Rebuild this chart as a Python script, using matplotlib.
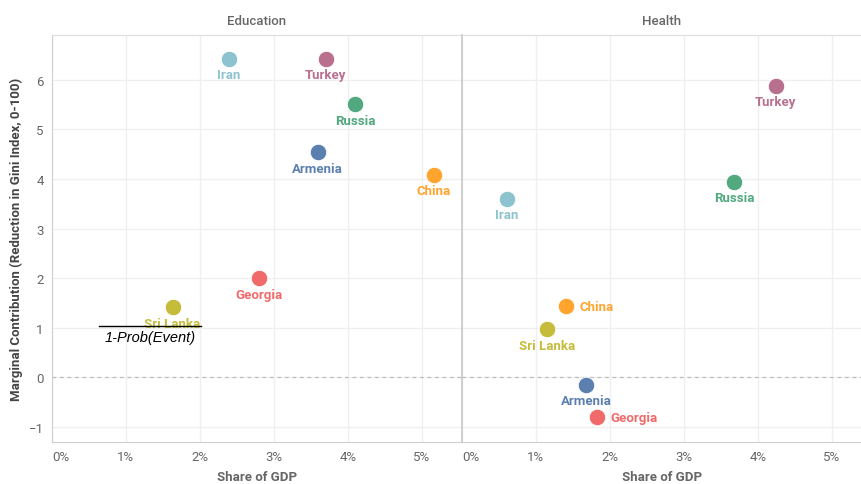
"""
plot.py
"""

import matplotlib.pyplot as plt
from matplotlib.ticker import FuncFormatter

plt.rcParams["font.family"] = ["Roboto", "DejaVu Sans"]

# -------------------------
# Data
# -------------------------

countries = ["Iran", "Turkey", "Russia", "Armenia", "China", "Georgia", "Sri Lanka"]

edu_share = [2.39, 3.70, 4.10, 3.59, 5.16, 2.80, 1.63]
edu_contrib = [6.42, 6.42, 5.50, 4.54, 4.08, 2.00, 1.41]

health_share = [0.61, 4.24, 3.68, 1.68, 1.40, 1.82, 1.15]
health_contrib = [3.60, 5.88, 3.94, -0.15, 1.44, -0.80, 0.97]

colors = {
    "Iran": "#8cc3ce",
    "Turkey": "#b9708f",
    "Russia": "#52a97f",
    "Armenia": "#5b7fae",
    "China": "#ffa52e",
    "Georgia": "#f06a6a",
    "Sri Lanka": "#c4bc3a",
}

# labels placed to the right of the marker instead of below
right_labels = {"Health": ["China", "Georgia"], "Education": []}

x_ticks = [0, 1, 2, 3, 4, 5]
y_ticks = [-1, 0, 1, 2, 3, 4, 5, 6]

# -------------------------
# Figure
# -------------------------

fig = plt.figure(figsize=(8.62, 4.85), dpi=100)

bottom = 1 - 443 / 485
height = (443 - 36) / 485

ax_edu = fig.add_axes([52 / 862, bottom, 410 / 862, height])
ax_health = fig.add_axes([462 / 862, bottom, 400 / 862, height])

grey_text = "#666666"

panels = [
    (ax_edu, "Education", edu_share, edu_contrib),
    (ax_health, "Health", health_share, health_contrib),
]

for ax, title, xs, ys in panels:

    ax.set_xlim(0, 410 / 74 if title == "Education" else 400 / 74)
    ax.set_ylim(-1.3, 6.9)

    ax.set_xticks(x_ticks)
    ax.set_yticks(y_ticks)

    ax.xaxis.set_major_formatter(FuncFormatter(lambda v, p: f"{v:.0f}%"))

    ax.grid(True, color="#efefef", linewidth=0.9)
    ax.set_axisbelow(True)

    ax.axhline(0, color="#bdbdbd", linestyle=(0, (3, 3)), linewidth=0.9, zorder=1)

    ax.tick_params(length=0, labelsize=9.5, labelcolor=grey_text, pad=6)

    ax.spines["top"].set_color("#dddddd")
    ax.spines["right"].set_visible(False)
    ax.spines["bottom"].set_color("#cfcfcf")
    ax.spines["left"].set_color("#cfcfcf")

    ax.set_title(title, fontsize=9.5, color=grey_text, fontweight="medium", pad=8)

    ax.set_xlabel("Share of GDP", fontsize=9.5, color=grey_text,
                  fontweight="bold", labelpad=5)

    # first tick label is kept inside the panel
    ax.get_xticklabels()[0].set_horizontalalignment("left")

    for name, x, y in zip(countries, xs, ys):

        c = colors[name]

        ax.scatter(x, y, s=140, color=c, edgecolors="white",
                   linewidths=0.6, zorder=3)

        if name in right_labels[title]:
            ax.annotate(name, (x, y), xytext=(10, 0), textcoords="offset points",
                        ha="left", va="center", fontsize=9.5, color=c,
                        fontweight="bold")
        else:
            ax.annotate(name, (x, y), xytext=(0, -11.5), textcoords="offset points",
                        ha="center", va="center", fontsize=9.5, color=c,
                        fontweight="bold")

ax_edu.set_ylabel("Marginal Contribution (Reduction in Gini Index, 0-100)",
                  fontsize=9.5, color="#444444", fontweight="bold", labelpad=4)

ax_health.set_yticklabels([])
ax_health.spines["left"].set_color("#c8c8c8")
ax_health.spines["left"].set_linewidth(1.2)

# -------------------------
# Stray annotation over Sri Lanka
# -------------------------

fig.add_artist(plt.Line2D([99 / 862, 201 / 862], [1 - 327 / 485, 1 - 327 / 485],
                          color="black", linewidth=1))
fig.text(150 / 862, 1 - 338 / 485, "1-Prob(Event)", ha="center", va="center",
         fontsize=10.5, style="italic", color="black",
         family=["Liberation Sans", "DejaVu Sans"])

fig.savefig("out.png", dpi=100)
